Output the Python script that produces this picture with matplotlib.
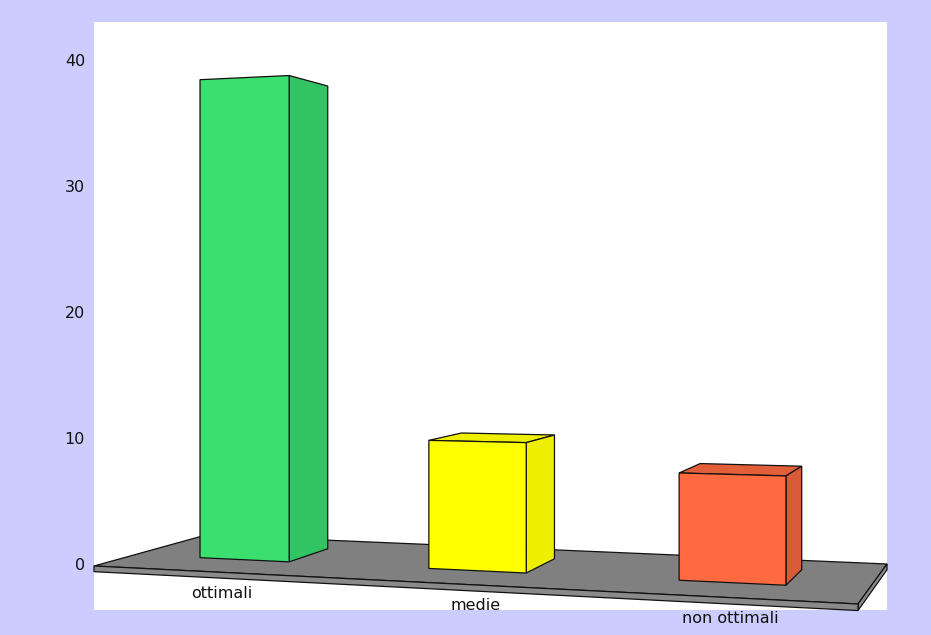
import numpy as np
import matplotlib
matplotlib.use('Agg')
import matplotlib.pyplot as plt
from matplotlib.patches import Polygon, Rectangle

# chart data
categories = ['ottimali', 'medie', 'non ottimali']
values = [39, 10, 8]
y_ticks = [0, 10, 20, 30, 40]

front_colors = ['#3ADF6F', '#FFFF00', '#FF6A40']
side_colors = ['#32C462', '#EEEE00', '#D85A36']
top_colors = ['#36D06A', '#EEEE00', '#E25F3A']

# layout (pixels) - the scene is a perspective view of a floor plate
W, H = 931, 635
panel = (94, 22, 887, 610)  # white area: left, top, right, bottom
floor_corners = {(0, 0): (94, 566), (1, 0): (858, 604),
                 (0, 1): (206, 535), (1, 1): (887, 564)}
px_per_unit = 12.625   # vertical scale at the front-left corner
slab = 0.45            # floor thickness, in value units
bar_frac = 0.40        # bar width as part of a category slot
z_front, z_back = 0.34, 0.745


def fit_homography(pairs):
    A, b = [], []
    for (x, z), (u, v) in pairs.items():
        A.append([x, z, 1, 0, 0, 0, -u * x, -u * z])
        b.append(u)
        A.append([0, 0, 0, x, z, 1, -v * x, -v * z])
        b.append(v)
    h = np.linalg.solve(np.array(A, float), np.array(b, float))
    return np.append(h, 1).reshape(3, 3)


Hm = fit_homography(floor_corners)


def project(x, z, y):
    u, v, w = Hm @ np.array([x, z, 1.0])
    return u / w, (v - y * px_per_unit) / w


def box_faces(x0, x1, z0, z1, y0, y1):
    # vertices ordered so that visible faces come out with negative area on screen
    return {
        'front': [(x0, z0, y0), (x1, z0, y0), (x1, z0, y1), (x0, z0, y1)],
        'back': [(x1, z1, y0), (x0, z1, y0), (x0, z1, y1), (x1, z1, y1)],
        'right': [(x1, z0, y0), (x1, z1, y0), (x1, z1, y1), (x1, z0, y1)],
        'left': [(x0, z1, y0), (x0, z0, y0), (x0, z0, y1), (x0, z1, y1)],
        'top': [(x0, z0, y1), (x1, z0, y1), (x1, z1, y1), (x0, z1, y1)],
        'bottom': [(x0, z1, y0), (x1, z1, y0), (x1, z0, y0), (x0, z0, y0)],
    }


def visible(pts):
    p = np.array(pts)
    area = np.sum(p[:, 0] * np.roll(p[:, 1], -1) - np.roll(p[:, 0], -1) * p[:, 1])
    return area < 0


def draw_box(ax, faces, colors):
    for name in ['back', 'left', 'bottom', 'top', 'right', 'front']:
        pts = [project(x, z, y) for x, z, y in faces[name]]
        if visible(pts):
            ax.add_patch(Polygon(pts, closed=True, facecolor=colors[name],
                                 edgecolor='#111111', linewidth=0.9, joinstyle='miter'))


fig = plt.figure(figsize=(W / 100, H / 100), dpi=100)
fig.patch.set_facecolor('#CCCCFF')
ax = fig.add_axes([0, 0, 1, 1])
ax.set_xlim(0, W)
ax.set_ylim(H, 0)
ax.axis('off')

ax.add_patch(Rectangle((panel[0], panel[1]), panel[2] - panel[0], panel[3] - panel[1],
                       facecolor='white', edgecolor='none'))

# floor plate
floor_cols = {k: '#808080' for k in ['back', 'left', 'bottom', 'top', 'right', 'front']}
floor_cols['front'] = '#8A8A8A'
floor_cols['right'] = '#8A8A8A'
draw_box(ax, box_faces(0, 1, 0, 1, -slab, 0), floor_cols)

# bars
n = len(categories)
for i, val in enumerate(values):
    xc = (i + 0.5) / n
    hw = bar_frac / n / 2
    cols = {'front': front_colors[i], 'right': side_colors[i], 'left': side_colors[i],
            'top': top_colors[i], 'back': side_colors[i], 'bottom': side_colors[i]}
    draw_box(ax, box_faces(xc - hw, xc + hw, z_front, z_back, 0, val), cols)

# value axis labels, along the front-left corner
for t in y_ticks:
    u, v = project(0, 0, t)
    ax.text(u - 9, v, str(t), ha='right', va='center', fontsize=11.5,
            family='DejaVu Sans', color='#111111')

# category labels, spread along the front edge of the floor
(fl_u, fl_v), (fr_u, fr_v) = floor_corners[(0, 0)], floor_corners[(1, 0)]
for i, cat in enumerate(categories):
    t = (i + 0.5) / n
    u = fl_u + (fr_u - fl_u) * t
    v = fl_v + (fr_v - fl_v) * t
    ax.text(u, v + 21, cat, ha='center', va='center', fontsize=11.5,
            family='DejaVu Sans', color='#111111')

fig.savefig('out.png', dpi=100, facecolor=fig.get_facecolor())
